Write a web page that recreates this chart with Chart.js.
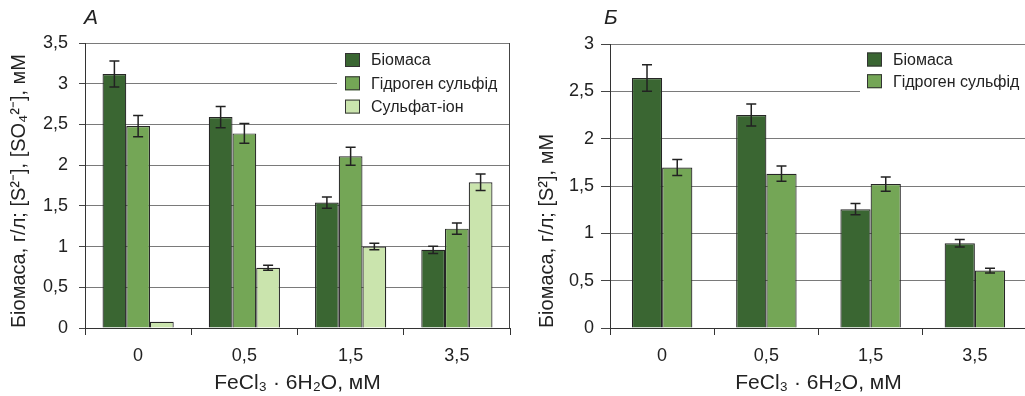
<!DOCTYPE html>
<html>
<head>
<meta charset="utf-8">
<script src="https://cdn.jsdelivr.net/npm/chart.js@4.4.1/dist/chart.umd.min.js"></script>
<style>
  html, body { margin: 0; padding: 0; background: #fff; overflow: hidden; width: 1025px; height: 396px; }
  .panel { position: absolute; top: 0; }
  #wa { left: 0; }
  #wb { left: 520px; }
  .lbl { position: absolute; top: 5px; font: italic 21px "Liberation Sans", Arial, sans-serif; color: #222; }
</style>
</head>
<body>
<div class="panel" id="wa"><canvas id="chartA" width="520" height="396"></canvas></div>
<div class="panel" id="wb"><canvas id="chartB" width="510" height="396"></canvas></div>
<div class="lbl" style="left:84px">А</div>
<div class="lbl" style="left:604px">Б</div>
<script>
// концентрації FeCl3·6H2O, мМ
const categories = ['0', '0,5', '1,5', '3,5'];

// панель А
const biomassA = [3.12, 2.59, 1.54, 0.96];
const biomassErrA = [0.16, 0.13, 0.07, 0.045];
const sulfideA = [2.48, 2.39, 2.11, 1.22];
const sulfideErrA = [0.13, 0.12, 0.11, 0.07];
const sulfateA = [0.077, 0.74, 1.0, 1.79];
const sulfateErrA = [0, 0.03, 0.04, 0.1];

// панель Б
const biomassB = [2.64, 2.25, 1.255, 0.895];
const biomassErrB = [0.14, 0.115, 0.06, 0.04];
const sulfideB = [1.695, 1.63, 1.52, 0.607];
const sulfideErrB = [0.085, 0.08, 0.075, 0.025];

const seriesNames = ['Біомаса', 'Гідроген сульфід', 'Сульфат-іон'];
const seriesColors = ['#3a6632', '#74a656', '#cae4ad'];

Chart.defaults.font.family = '"Liberation Sans", Arial, sans-serif';
Chart.defaults.color = '#222';
Chart.defaults.devicePixelRatio = 1;

const errorBars = {
  id: 'errorBars',
  afterDatasetsDraw(chart) {
    const ctx = chart.ctx;
    const y = chart.scales.y;
    ctx.save();
    ctx.strokeStyle = '#222';
    ctx.lineWidth = 1.5;
    chart.data.datasets.forEach((ds, di) => {
      if (!ds.err) return;
      chart.getDatasetMeta(di).data.forEach((bar, i) => {
        const e = ds.err[i];
        if (!e) return;
        const top = y.getPixelForValue(ds.data[i] + e);
        const bot = y.getPixelForValue(ds.data[i] - e);
        ctx.beginPath();
        ctx.moveTo(bar.x, top); ctx.lineTo(bar.x, bot);
        ctx.moveTo(bar.x - 5, top); ctx.lineTo(bar.x + 5, top);
        ctx.moveTo(bar.x - 5, bot); ctx.lineTo(bar.x + 5, bot);
        ctx.stroke();
      });
    });
    ctx.restore();
  }
};

const boxLegend = {
  id: 'boxLegend',
  beforeDatasetsDraw(chart, args, o) {
    const a = chart.chartArea;
    const ctx = chart.ctx;
    ctx.save();
    ctx.fillStyle = '#fff';
    ctx.fillRect(a.right - o.boxWidth, a.top + 1, o.boxWidth - 1, o.boxHeight);
    ctx.restore();
  },
  afterDraw(chart, args, o) {
    const a = chart.chartArea;
    const ctx = chart.ctx;
    ctx.save();
    // рамка справа
    ctx.strokeStyle = '#444';
    ctx.lineWidth = 1;
    ctx.beginPath();
    ctx.moveTo(a.right - 0.5, a.top);
    ctx.lineTo(a.right - 0.5, a.bottom);
    ctx.stroke();
    ctx.font = '16px "Liberation Sans", Arial, sans-serif';
    ctx.textBaseline = 'middle';
    chart.data.datasets.forEach((ds, i) => {
      const cy = a.top + o.firstY + i * o.stepY;
      const sx = a.right - o.boxWidth + o.squareX;
      ctx.fillStyle = ds.backgroundColor;
      ctx.fillRect(sx, cy - 7, 15, 14);
      ctx.strokeStyle = '#333';
      ctx.strokeRect(sx + 0.5, cy - 6.5, 14, 13);
      ctx.fillStyle = '#222';
      ctx.fillText(ds.label, sx + 26, cy + 1);
    });
    ctx.restore();
  }
};

function makeDatasets(values, errs) {
  return values.map((v, i) => ({
    label: seriesNames[i],
    data: v,
    err: errs[i],
    backgroundColor: seriesColors[i],
    borderColor: '#262626',
    borderWidth: 1.2,
    categoryPercentage: 1,
    barPercentage: 1,
  }));
}

function makeOptions(cfg) {
  return {
    responsive: false,
    animation: false,
    layout: { padding: { top: cfg.top, right: cfg.right, left: 0, bottom: 0 } },
    plugins: {
      legend: { display: false },
      tooltip: { enabled: false },
      boxLegend: cfg.legend,
    },
    scales: {
      x: {
        offset: true,
        afterFit: (s) => { s.height = 68; },
        grid: { drawOnChartArea: false, offset: true, tickLength: 7, tickColor: '#333' },
        border: { color: '#333', width: 1 },
        ticks: { font: { size: 18 }, padding: 10, color: '#222' },
        title: { display: true, text: 'FeCl₃ · 6H₂O, мМ', font: { size: 21 }, padding: { top: 0, bottom: 0 }, color: '#222' },
      },
      y: {
        min: 0,
        max: cfg.max,
        afterFit: (s) => { s.width = cfg.yWidth; },
        grid: { color: '#7a7a7a', tickLength: cfg.tickLen, tickColor: '#444' },
        border: { color: '#333', width: 1 },
        ticks: {
          stepSize: 0.5,
          font: { size: 18 },
          padding: cfg.tickPad,
          color: '#222',
          callback: (v) => String(v).replace('.', ','),
        },
        title: { display: true, text: cfg.title, align: 'start', font: { size: 20 }, padding: { top: cfg.titlePad, bottom: 0 }, color: '#222' },
      },
    },
  };
}

const datasetsA = makeDatasets([biomassA, sulfideA, sulfateA], [biomassErrA, sulfideErrA, sulfateErrA]);
datasetsA.forEach(d => { d.categoryPercentage = 0.67; });
const datasetsB = makeDatasets([biomassB, sulfideB], [biomassErrB, sulfideErrB]);
datasetsB.forEach(d => { d.categoryPercentage = 0.58; });

new Chart(document.getElementById('chartA'), {
  type: 'bar',
  data: { labels: categories, datasets: datasetsA },
  options: makeOptions({
    top: 43, right: 10, max: 3.5, yWidth: 85, tickLen: 6, tickPad: 11, titlePad: 7,
    title: 'Біомаса, г/л; [S²⁻], [SO₄²⁻], мМ',
    legend: { boxWidth: 173, boxHeight: 74, squareX: 8, firstY: 17, stepY: 23.3 },
  }),
  plugins: [errorBars, boxLegend],
});

new Chart(document.getElementById('chartB'), {
  type: 'bar',
  data: { labels: categories, datasets: datasetsB },
  options: makeOptions({
    top: 44, right: 3, max: 3, yWidth: 90, tickLen: 9, tickPad: 7, titlePad: 15,
    title: 'Біомаса, г/л; [S²], мМ',
    legend: { boxWidth: 167, boxHeight: 52, squareX: 7, firstY: 15.5, stepY: 21.7 },
  }),
  plugins: [errorBars, boxLegend],
});
</script>
</body>
</html>
